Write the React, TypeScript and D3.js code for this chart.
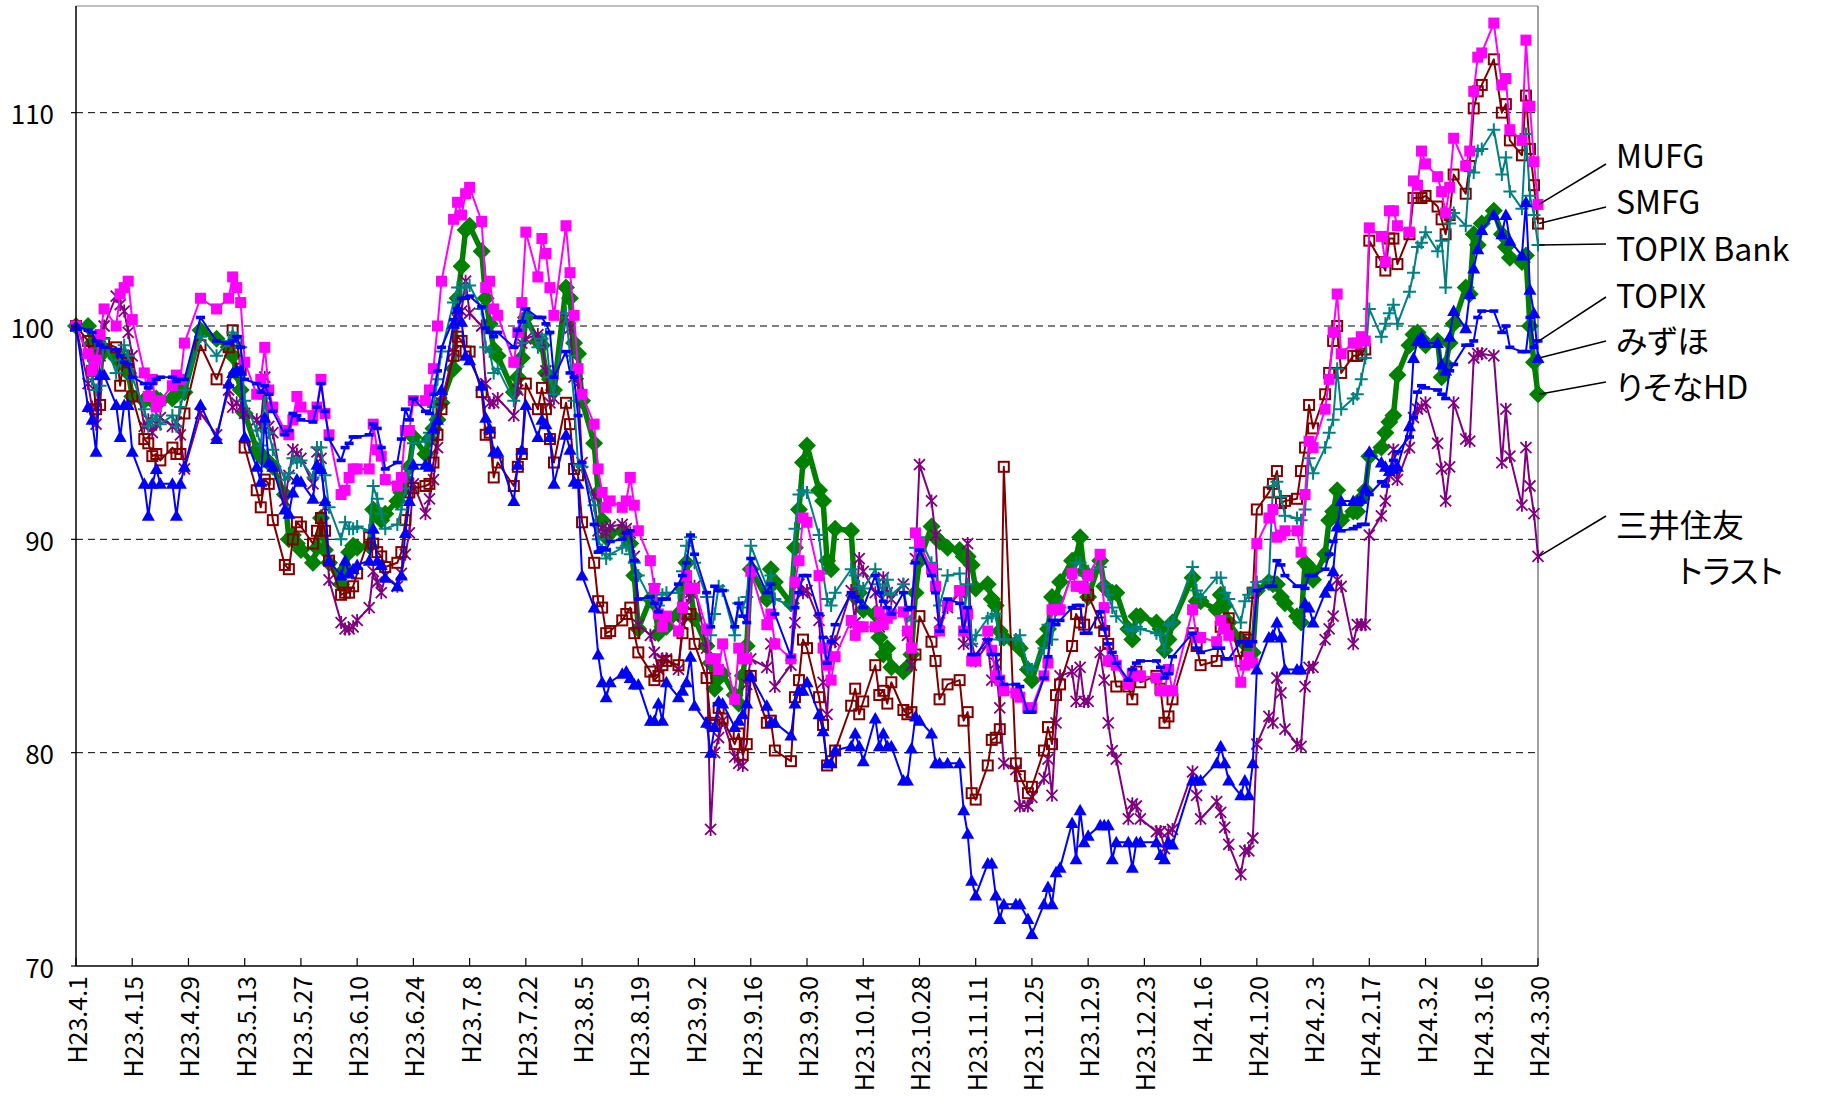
import React from 'react';
import * as d3 from 'd3';

const W = 1827;
const H = 1097;
const PL = 76, PR = 1538, PT = 6, PB = 966;
const FONT = "'Noto Sans CJK JP', 'Noto Sans', sans-serif";

// trading days (categories), per month Apr 2011 .. Mar 2012
const MONTH_STARTS: [number, number][] = [
  [2011, 3], [2011, 4], [2011, 5], [2011, 6], [2011, 7], [2011, 8],
  [2011, 9], [2011, 10], [2011, 11], [2012, 0], [2012, 1], [2012, 2],
];
const TRADING_DAYS: number[][] = [
  [1, 4, 5, 6, 7, 8, 11, 12, 13, 14, 15, 18, 19, 20, 21, 22, 25, 26, 27, 28],
  [2, 6, 9, 10, 11, 12, 13, 16, 17, 18, 19, 20, 23, 24, 25, 26, 27, 30, 31],
  [1, 2, 3, 6, 7, 8, 9, 10, 13, 14, 15, 16, 17, 20, 21, 22, 23, 24, 27, 28, 29, 30],
  [1, 4, 5, 6, 7, 8, 11, 12, 13, 14, 15, 19, 20, 21, 22, 25, 26, 27, 28, 29],
  [1, 2, 3, 4, 5, 8, 9, 10, 11, 12, 15, 16, 17, 18, 19, 22, 23, 24, 25, 26, 29, 30, 31],
  [1, 2, 5, 6, 7, 8, 9, 12, 13, 14, 15, 16, 20, 21, 22, 26, 27, 28, 29, 30],
  [3, 4, 5, 6, 7, 11, 12, 13, 14, 17, 18, 19, 20, 21, 24, 25, 26, 27, 28, 31],
  [1, 2, 4, 7, 8, 9, 10, 11, 14, 15, 16, 17, 18, 21, 22, 24, 25, 28, 29, 30],
  [1, 2, 5, 6, 7, 8, 9, 12, 13, 14, 15, 16, 19, 20, 21, 22, 26, 27, 28, 29, 30],
  [4, 5, 6, 10, 11, 12, 13, 16, 17, 18, 19, 20, 23, 24, 25, 26, 27, 30, 31],
  [1, 2, 3, 6, 7, 8, 9, 10, 13, 14, 15, 16, 17, 20, 21, 22, 23, 24, 27, 28, 29],
  [1, 2, 5, 6, 7, 8, 9, 12, 13, 14, 15, 16, 19, 21, 22, 23, 26, 27, 28, 29, 30],
];

const TICK_LABELS = [
  'H23.4.1', 'H23.4.15', 'H23.4.29', 'H23.5.13', 'H23.5.27', 'H23.6.10', 'H23.6.24',
  'H23.7.8', 'H23.7.22', 'H23.8.5', 'H23.8.19', 'H23.9.2', 'H23.9.16', 'H23.9.30',
  'H23.10.14', 'H23.10.28', 'H23.11.11', 'H23.11.25', 'H23.12.9', 'H23.12.23',
  'H24.1.6', 'H24.1.20', 'H24.2.3', 'H24.2.17', 'H24.3.2', 'H24.3.16', 'H24.3.30',
];
const Y_TICKS = [70, 80, 90, 100, 110];
const GRID_VALUES = [80, 90, 100, 110];

// series values (index, 2011/4/1 = 100)
const MUFG = [
  100, 98.7, 97.9, 98.4, 99.6, 100.8, 100, 101.5, 101.8, 102.1, 100.3, 97.8, 96.7, 97.5, 96.2, 96.5, 97.2, 97.7, 97.5, 99.2,
  101.3, 100.8, 101.3, 102.3, 101.8, 101.1, 98.3, 96.8, 97.5, 99, 97, 96.2, 95.1, 94.9, 95.6, 96.7, 96.2, 95.8, 96.2,
  97.5, 95.9, 94.9, 92.1, 92.3, 92.9, 93.3, 93.3, 93.3, 95.4, 94.2, 93.9, 92.8, 92.5, 92.9, 95.1, 95.1, 96.5, 96.5, 97, 98, 100,
  102.1, 105, 105.8, 105.2, 106.2, 106.5, 104.9, 101.8, 102.1, 100.8, 100.5, 98.3, 99.7, 101.1, 104.4, 102.3, 104.1, 103.4, 101.8, 100.5,
  104.7, 102.5, 100.5, 98, 96.8, 95.4, 93.3, 92.2, 91.5, 91.8, 91.5, 91.8, 92.9, 91.6, 90.4, 89, 87.7, 86.5, 85.9, 86.4, 85.7, 86.8, 88.3,
  87.7, 87.7, 85.8, 84.4, 84.4, 83.9, 85.1, 82.5, 84.9, 84.4, 84.4, 88.5, 86, 86.5, 85.1, 84.4, 88, 89, 91, 90.8,
  88.3, 84.9, 84.1, 83.4, 84.5, 86.2, 85.5, 85.9, 85.9, 85.9, 86.6, 86, 86.3, 86.5, 86.6, 85.7, 84.9, 90.3, 89.8, 88.6,
  87.8, 85.7, 86.9, 87.6, 85.7, 86.5, 84.3, 84.3, 85.7, 84.8, 83.6, 83.4, 82.9, 82.8, 82.6, 82.1, 82.1, 83.6, 84.2, 86.7,
  86.7, 86.7, 88.4, 87.8, 87.8, 87.7, 88.3, 89.3, 86.8, 84.3, 84.3, 84.1, 83.2, 83.7, 83.6, 83.6, 83.5, 82.9, 82.9, 83.9, 82.9,
  86.7, 85.4, 85.4, 85.2, 86.2, 85.8, 85.5, 83.3, 84.1, 84.5, 84.2, 89.8, 91, 91.4, 90.1, 90.2, 90.4, 90.4, 89.4,
  92.1, 94.6, 94.3, 96.1, 97.5, 99.7, 101.5, 98.7, 99.2, 99.2, 99.5, 99.3, 104.6, 104.2, 103, 105.4, 105.4, 104.7, 104.4, 106.8, 106.6,
  108.2, 107.6, 107, 106.3, 105.3, 106.5, 108.8, 107.5, 108.2, 111, 112.6, 112.8, 114.2, 111.3, 111.6, 109.2, 108.7, 113.4, 110.3, 107.7, 105.7,
];
const SMFG = [
  100, 99.3, 97.9, 96.1, 96.3, 99.2, 99, 97.2, 98.6, 98.3, 96.7, 94.7, 94.5, 93.9, 94, 93.7, 94.3, 94, 94, 95.9,
  99.1, 97.5, 99, 99.8, 99.3, 98, 94.3, 92.3, 91.5, 92.8, 92.6, 90.9, 88.8, 88.6, 90, 90.8, 90.6, 89.8, 90.4,
  91, 90.4, 89, 87.4, 87.5, 87.5, 87.8, 88.4, 90.1, 89.8, 89.4, 89.2, 88.7, 88.9, 89.4, 90.9, 92.2, 92.4, 92.5, 92.6, 93.6, 94.9,
  96.1, 98.6, 99.5, 99.3, 98.8, 98.8, 96.9, 94.9, 95, 92.9, 93.6, 92.5, 93.4, 94, 97.3, 96.1, 97.1, 96.1, 94.7, 93.6,
  96.4, 95.4, 93.3, 93, 90.8, 88.9, 87.1, 86.8, 85.6, 85.7, 86.2, 86.5, 86.8, 85.6, 84.7, 83.8, 83.4, 83.6, 84.1, 84.3, 84.1, 85.6, 86.5,
  86.5, 85.1, 83.5, 81.4, 81.3, 82.1, 81.6, 80.4, 80.9, 79.9, 80.4, 83.6, 81.4, 81.5, 80.1, 79.6, 82.6, 83.4, 85.3, 84.9,
  82.6, 81.3, 79.4, 79.6, 80.1, 82.2, 83, 81.8, 82.4, 84.1, 82.7, 82.9, 82.3, 83.3, 82, 81.8, 81.9, 84.6, 86.4, 85.2,
  84.3, 82.5, 83.2, 83.4, 81.5, 81.9, 78.1, 77.8, 79.4, 80.6, 80.7, 81.1, 93.4, 79.5, 78.9, 78.1, 78.4, 80.1, 81.2, 80.4,
  82.7, 83.2, 85, 86.5, 86.1, 86, 87.4, 86.1, 85.7, 85.1, 84.3, 83.1, 83.1, 82.5, 83.8, 83.3, 83.6, 83, 81.4, 81.7, 82.5,
  85.6, 85, 84.1, 84.3, 85.9, 86, 86.3, 84.3, 85.4, 85.3, 87.5, 91.4, 92.2, 92.6, 93.2, 91.7, 91.8, 91.9, 93.2,
  94.3, 96.3, 95.2, 96.8, 97.8, 99.3, 100, 97.8, 98.6, 98.6, 98.7, 98.9, 104, 103, 102.6, 104.1, 104.1, 102.9, 104.3, 106, 106,
  106, 106.1, 105.6, 105, 104.3, 105.2, 107.1, 106.2, 107.5, 110.2, 111, 111.3, 112.5, 110, 110.4, 108.7, 108, 110.8, 108.3, 106.6, 104.8,
];
const TOPIX_BANK = [
  100, 98.6, 97.5, 97, 97.2, 99.4, 97.8, 98.4, 99.1, 98.6, 97.6, 96.1, 95.3, 95.6, 95.8, 95.4, 95.8, 95.3, 96.2, 97,
  99.5, 98.6, 99.3, 99.7, 99.4, 99, 96.5, 95.1, 94.4, 96.6, 95, 94.2, 92.8, 93.1, 93.8, 93.6, 93.7, 92.9, 94.3,
  94.3, 93, 91.5, 90, 90.8, 90.5, 90.5, 90.6, 90.4, 92.5, 91.9, 91.2, 90.5, 90.7, 91.4, 92.4, 93.3, 94.5, 94.6, 95, 96.2, 97.5,
  98.8, 101.1, 101.8, 101.8, 101.8, 101.9, 100.8, 99, 98.8, 97.8, 98, 96.5, 98.1, 99.2, 100.5, 99, 99.4, 99.6, 97.6, 96.8,
  100.6, 98.6, 96.5, 93.5, 93.4, 91.6, 90, 89.5, 89.1, 89.3, 89.6, 89.7, 89.3, 88.9, 88.3, 87.2, 87.9, 86.9, 87.4, 87.5, 87.5, 88.5, 89.7,
  90.1, 88.9, 87.3, 85.5, 86.5, 87.8, 87.6, 85.5, 87, 86.8, 87.3, 89.7, 87.8, 88.3, 87.2, 86.9, 90.5, 92.1, 92.3, 92.2,
  90.2, 88.4, 87.2, 86.9, 87.5, 88.6, 88.3, 87.8, 87.7, 88.6, 87.9, 87.5, 88.1, 87.4, 87.9, 86.4, 86.2, 89.6, 90.1, 88.9,
  88.6, 86.9, 88.3, 88.4, 86.3, 87.9, 85.1, 85.5, 86.3, 86.4, 86.5, 85.3, 85.3, 85.3, 85.5, 84, 83.9, 84.9, 86, 85.3,
  86.7, 86.8, 88.4, 88.9, 88.9, 88.3, 88.5, 88.7, 87.9, 87.4, 86.8, 86.4, 85.8, 85.7, 85.9, 85.8, 85.6, 85.5, 84.8, 86, 86.1,
  88.7, 87.6, 87.3, 88.2, 88.2, 87.5, 87.2, 86.1, 87.1, 87.4, 87.7, 88, 88.1, 92.5, 92.7, 92, 91.1, 91, 90.9,
  91.4, 93.8, 93.1, 94.3, 95, 95.6, 98, 96.1, 96.6, 96.8, 97.5, 98.5, 100.8, 99.5, 100.1, 100.6, 101, 100.1, 101.6, 102.5, 103.7,
  103.9, 104.4, 103.5, 104, 101.8, 104.8, 105.3, 104.7, 107.3, 107.2, 108.2, 108.3, 109.2, 107.1, 107.9, 106.3, 105.5, 109, 106.1, 105.2, 103.8,
];
const TOPIX = [
  100, 99.8, 99.7, 99.3, 99.1, 99, 98.9, 98.6, 98.3, 98.2, 97.6, 97.3, 97.1, 97.3, 97.5, 97.6, 97.6, 97.4, 97.5, 97.5,
  100.4, 99.3, 99.2, 99.3, 99.5, 99, 97.5, 97.3, 96.9, 97.2, 96.8, 96, 94.9, 95.1, 95.9, 95.8, 95.6, 95.5, 96.2,
  97.3, 96, 94.7, 93.7, 94.3, 94.5, 94.8, 94.8, 94.9, 95.4, 95.2, 94.3, 93.3, 93.6, 94.7, 96.1, 95.6, 96.6, 96, 95.9, 96.8, 97.9,
  99, 100.3, 100.8, 101.3, 101.3, 101.4, 100.9, 99.9, 99.7, 99.5, 99.7, 99, 99.8, 100.2, 100.8, 100.4, 100.4, 100.1, 99.7, 97.6,
  98.8, 97.8, 97.6, 95.8, 93.6, 90.7, 89.4, 89.6, 89.5, 89.9, 90, 90.3, 90.4, 89, 87.2, 87.3, 87, 86.6, 87.2, 87.2, 87.9, 88.3, 88.9,
  90.2, 89.3, 87.5, 85.9, 87.8, 87.6, 87.6, 85.9, 87, 86.4, 86.1, 89.1, 87.5, 87.9, 86.5, 84.5, 86.8, 87.5, 88.3, 88.3,
  86.5, 85.4, 84.2, 85.2, 86, 87.5, 87.3, 87.1, 86.8, 88.3, 87.5, 87.1, 86.8, 86.5, 87.5, 86.7, 86.8, 88.9, 89.5, 88.3,
  87.5, 85.7, 87.2, 87, 85.7, 86.8, 84.6, 84.6, 85.3, 84.6, 84.6, 83.5, 83.2, 83.2, 83.1, 81.9, 81.9, 83.5, 84.5, 86.2,
  86, 86.2, 86.8, 86.9, 86.9, 85.6, 85.6, 86.6, 85.8, 85.1, 84.7, 84.2, 83.4, 83.9, 84.2, 84.3, 84.3, 84, 83.5, 83.7, 84.5,
  85.6, 84.9, 84.7, 84.9, 84.9, 84.4, 84.4, 85.2, 85.2, 85, 85.2, 87.6, 87.8, 87.8, 89, 88.8, 88.3, 87.8, 87.8,
  87.7, 88.3, 88.3, 88.6, 89.3, 89.9, 90.5, 90.4, 90.5, 90.6, 90.7, 90.7, 92.1, 92.7, 92.5, 93.3, 93.7, 94.1, 94.8, 95.7, 96.9,
  97.2, 97.1, 97, 96.8, 96.6, 97.9, 98.2, 99.1, 99.1, 99.3, 100.4, 100.7, 100.7, 99.7, 100, 99, 98.8, 98.8, 100.4, 99, 99.3,
];
const MIZUHO = [
  100, 96.2, 95.6, 94.1, 97.7, 97.7, 96.3, 94.8, 96.3, 96.3, 94.1, 92.6, 91.1, 92.6, 93.3, 92.6, 92.6, 91.1, 92.6, 93.4,
  96.3, 94.7, 97.3, 97.8, 97.9, 97.9, 94.8, 93.4, 92.7, 95.7, 93.6, 93.4, 91.4, 91.2, 92.2, 92.8, 92.7, 91.9, 93.5,
  93.3, 91.8, 89, 88.3, 89, 88.4, 88.6, 88.8, 89, 90.5, 89, 88.8, 88.2, 87.8, 88.3, 90.3, 91.8, 93.5, 93.5, 93.4, 95.2, 95.6,
  97, 100.1, 100.8, 100.2, 98.6, 98.4, 97.2, 95.7, 95.2, 94.1, 94.1, 91.8, 93.5, 94.2, 96.3, 94.8, 95.6, 95.4, 94.8, 92.6,
  94.9, 94.2, 92.7, 92.6, 88.3, 86.8, 84.6, 83.3, 82.6, 83.3, 83.7, 83.8, 83.5, 83.2, 83.2, 81.5, 81.5, 82.3, 81.5, 83.3, 82.6, 82.9, 83.3,
  84.5, 82.2, 81.4, 80, 81.2, 82.4, 82.3, 81.2, 81.5, 81.8, 82.3, 83.6, 82.2, 81.4, 81.4, 80.8, 82.3, 82.9, 82.9, 83.3,
  81.8, 81, 79.5, 79.5, 80.1, 80.3, 80.9, 80.3, 79.6, 81.6, 80.3, 80.9, 80.3, 80.3, 78.7, 78.7, 80.2, 81.7, 81.5, 80.9,
  79.5, 79.5, 79.5, 79.5, 77.3, 76.2, 74, 73.3, 74.8, 74.8, 73.3, 72.2, 72.9, 72.9, 72.9, 72.2, 71.5, 72.9, 73.7, 72.9,
  74.4, 74.6, 76.7, 75, 77.3, 75.8, 76.1, 76.6, 76.6, 76.6, 75, 75.8, 75.8, 74.6, 75.8, 75.8, 75.8, 75.2, 75, 75.8, 75.7,
  78.7, 78.7, 78.7, 79.5, 80.3, 79.5, 78.7, 78, 78.7, 78, 79.5, 83.9, 85.4, 85.5, 86.1, 85.4, 83.9, 83.9, 83.9,
  87, 86.8, 86.1, 87.5, 87.8, 88.5, 90.6, 91.8, 91.8, 91.8, 91.9, 92.4, 94.1, 93.6, 93.4, 93.2, 93.3, 93.4, 95.3, 98.5, 99.3,
  99.5, 99.2, 99.2, 98.2, 97.9, 99.5, 100.7, 99.9, 101.5, 102.7, 103.6, 104.5, 105.2, 104.3, 105.2, 104, 103.3, 105.8, 101.7, 100.6, 98.5,
];
const RESONA = [
  100, 100, 99.2, 98.8, 99, 98.8, 98.5, 98.3, 98.4, 97.8, 96.7, 96.5, 96.7, 96.5, 96.6, 96.5, 96.6, 96.8, 97, 96.9,
  99.8, 99.4, 99, 98.6, 97.8, 97, 95.9, 94.2, 93.9, 93.8, 93.6, 93.4, 92.1, 90, 90.2, 89.8, 89.5, 88.9, 89.6,
  91, 89.5, 88.9, 87.9, 88.6, 89.4, 89.7, 89.6, 89.7, 91.4, 91.2, 90.9, 91.2, 91.8, 92.2, 92.8, 93.4, 94.8, 94, 94.7, 95.2, 95.6,
  96.4, 98, 101.3, 102.8, 104.5, 104.7, 103.5, 101.3, 100.1, 98.9, 98.6, 96.9, 97.6, 98.5, 100.4, 99.3, 99.1, 97.8, 97.5, 97,
  101.8, 101.3, 99.2, 98.7, 96.5, 94.5, 92.2, 90.9, 90.1, 90.3, 90.4, 90.2, 89.8, 88.3, 85.8, 87.2, 87, 85.6, 85.9, 85.9, 86.5, 87.7, 88.9,
  87.6, 86.3, 85, 84.2, 83, 83.5, 83.7, 82.7, 82.3, 83.6, 85, 88.6, 87.2, 88.6, 88, 87, 89.6, 91.4, 93.6, 94.4,
  92.3, 91.8, 89, 88.6, 90.5, 90.4, 87.3, 87.5, 86.7, 86.5, 85.4, 84.6, 84.9, 84, 83.8, 84, 84.6, 87.5, 89, 90.6,
  90.1, 89.9, 89.6, 89.5, 89.2, 89.2, 88.8, 87.7, 87.9, 87.2, 86.9, 85.7, 85.4, 85.1, 84.9, 83.9, 83.4, 85.2, 85.8, 87.3,
  87.2, 88, 89, 89.1, 90.1, 88.5, 87.3, 89, 87.8, 87.6, 87.5, 87.5, 85.8, 85.3, 86.4, 86.4, 86.1, 85.8, 84.8, 85.3, 86.1,
  88.2, 87.1, 87.1, 86.7, 87.4, 86.9, 86.1, 85.3, 85.1, 84.7, 84.7, 87.6, 88, 87.9, 87.9, 87.3, 87, 86.4, 86.1,
  88.9, 88.7, 88.1, 89.3, 90.9, 91.3, 92.3, 90.9, 91.3, 91.3, 91.9, 92.3, 93.9, 94.3, 95, 95.5, 95.8, 97.7, 99.1, 99.6, 99.7,
  99.4, 99.1, 99.3, 97.6, 98.2, 99.2, 100.1, 101.8, 101.5, 104.3, 103.8, 104.8, 105.4, 104.3, 103.7, 103.2, 103, 103.3, 100, 98.3, 96.8,
];
const SUMITOMO_TRUST = [
  100, 97.3, 96.2, 95.4, 98.6, 100, 101.4, 101, 100.7, 99.7, 98.6, 95.3, 95.6, 95, 95.4, 95.7, 95.3, 95.5, 94.9, 93.3,
  95.9, 94.9, 97, 96.2, 96.4, 96.2, 95.9, 95.6, 95.3, 97.6, 95.3, 95, 91.8, 93, 94.2, 94, 93.8, 92.6, 94.1,
  93.8, 91.5, 88.1, 86.1, 85.8, 85.8, 85.9, 86.2, 86.8, 88.5, 88, 87.5, 88.3, 87.8, 88.4, 89.3, 90.3, 92.6, 91.2, 91.9, 92.8, 94.3,
  96.4, 98.8, 100.3, 100.7, 102.1, 100.6, 100, 97.3, 96.4, 96.4, 96.6, 95.8, 97, 99.2, 99.4, 99.6, 99.2, 97.9, 96.4, 96.6,
  100.4, 99.9, 97.6, 97.3, 93.6, 92, 90.4, 90.5, 90.3, 90.6, 90.7, 90.5, 90.3, 89.2, 86, 85.5, 84.7, 83.9, 84.4, 84.4, 83.9, 86, 86.9,
  87.5, 87.8, 84.9, 76.4, 80, 80.7, 81.5, 79.8, 79.5, 79.4, 83.2, 84.4, 84, 85.1, 83.1, 84.1, 86.1, 87.9, 87.5, 87.6,
  86.2, 83.3, 81.8, 85.2, 85.2, 87.6, 86.1, 89.1, 88.5, 87.5, 85.9, 88.2, 87.5, 87.2, 87.9, 85.5, 84.1, 89.1, 93.5, 91.8,
  90.2, 86.1, 86.8, 87.5, 85.1, 89.8, 85.2, 84.3, 85.1, 83.4, 84.2, 82.1, 79.5, 79.2, 77.5, 77.5, 77.9, 78.8, 79.7, 78,
  81.4, 83.6, 83.8, 82.4, 84, 82.4, 82.4, 84.7, 83.4, 81.4, 80.1, 79.7, 76.9, 77.6, 77.5, 76.9, 76.3, 76.3, 75.5, 76.3, 76.4,
  79.1, 78, 76.9, 77.7, 77.2, 76.5, 75.7, 74.3, 75.4, 75.4, 76, 80.4, 81.7, 81.4, 83.5, 82.8, 81.1, 80.4, 80.3,
  83.1, 84, 84, 85.3, 85.8, 86.4, 88.1, 87.8, 85.1, 86, 86, 86, 90.2, 91.1, 91.8, 93, 94.2, 92.8, 94.3, 95.7, 96.1,
  96.2, 96.4, 94.5, 93.3, 91.8, 93.4, 96.4, 94.7, 94.6, 98.5, 98.7, 98.7, 98.6, 93.6, 96.1, 93.9, 91.6, 94.3, 92.5, 91.2, 89.2,
];

// end labels
const LABEL_TEXTS = ['MUFG', 'SMFG', 'TOPIX Bank', 'TOPIX', 'みずほ', 'りそなHD', '三井住友', 'トラスト'];

type MarkerKind = 'square' | 'openSquare' | 'plus' | 'dash' | 'triangle' | 'diamond' | 'asterisk';

const DATES: Date[] = TRADING_DAYS.flatMap((days, i) =>
  days.map((d) => new Date(MONTH_STARTS[i][0], MONTH_STARTS[i][1], d))
);

function parseLabel(s: string): Date {
  const [era, m, d] = s.split('.');
  const yr = 1988 + parseInt(era.slice(1), 10);
  return new Date(yr, parseInt(m, 10) - 1, parseInt(d, 10));
}

const x = d3.scaleTime().domain([new Date(2011, 3, 1), new Date(2012, 2, 30)]).range([PL, PR]);
const y = d3.scaleLinear().domain([70, 115]).range([PB, PT]);

function Marker({ kind, cx, cy, color }: { kind: MarkerKind; cx: number; cy: number; color: string }) {
  switch (kind) {
    case 'square':
      return <rect x={cx - 5.5} y={cy - 5.5} width={11} height={11} fill={color} />;
    case 'openSquare':
      return <rect x={cx - 5} y={cy - 5} width={10} height={10} fill="none" stroke={color} strokeWidth={2} />;
    case 'plus':
      return <path d={`M${cx - 6.5},${cy}H${cx + 6.5}M${cx},${cy - 6.5}V${cy + 6.5}`} stroke={color} strokeWidth={2} />;
    case 'dash':
      return <rect x={cx - 4.5} y={cy - 1.8} width={9} height={3.6} fill={color} />;
    case 'triangle':
      return <path d={`M${cx},${cy - 6.5}L${cx + 6.5},${cy + 5}L${cx - 6.5},${cy + 5}Z`} fill={color} />;
    case 'diamond':
      return <path d={`M${cx},${cy - 9}L${cx + 9},${cy}L${cx},${cy + 9}L${cx - 9},${cy}Z`} fill={color} />;
    case 'asterisk':
      return (
        <path
          d={`M${cx - 5.5},${cy - 5.5}L${cx + 5.5},${cy + 5.5}M${cx - 5.5},${cy + 5.5}L${cx + 5.5},${cy - 5.5}M${cx},${cy - 6.5}V${cy + 6.5}`}
          stroke={color}
          strokeWidth={1.8}
        />
      );
  }
  return null;
}

const SERIES = [
  { key: 'resona', values: RESONA, color: '#008000', width: 5.5, marker: 'diamond' as MarkerKind },
  { key: 'trust', values: SUMITOMO_TRUST, color: '#800080', width: 2, marker: 'asterisk' as MarkerKind },
  { key: 'smfg', values: SMFG, color: '#800000', width: 2, marker: 'openSquare' as MarkerKind },
  { key: 'bank', values: TOPIX_BANK, color: '#008080', width: 2, marker: 'plus' as MarkerKind },
  { key: 'mufg', values: MUFG, color: '#FF00FF', width: 2, marker: 'square' as MarkerKind },
  { key: 'mizuho', values: MIZUHO, color: '#0000FF', width: 2, marker: 'triangle' as MarkerKind },
  { key: 'topix', values: TOPIX, color: '#0000FF', width: 2, marker: 'dash' as MarkerKind },
];

const LABELS = [
  { text: LABEL_TEXTS[0], values: MUFG, cy: 154, ly: 164 },
  { text: LABEL_TEXTS[1], values: SMFG, cy: 200, ly: 207 },
  { text: LABEL_TEXTS[2], values: TOPIX_BANK, cy: 247, ly: 244 },
  { text: LABEL_TEXTS[3], values: TOPIX, cy: 294, ly: 297 },
  { text: LABEL_TEXTS[4], values: MIZUHO, cy: 339, ly: 341 },
  { text: LABEL_TEXTS[5], values: RESONA, cy: 385, ly: 382 },
  { text: LABEL_TEXTS[6], values: SUMITOMO_TRUST, cy: 523, ly: 516 },
];

export default function App() {
  const line = d3
    .line<number>()
    .x((_, i) => x(DATES[i]))
    .y((v) => y(v));
  const lastX = x(DATES[DATES.length - 1]);
  const labelStyle = { fontFeatureSettings: '"palt"' };

  return (
    <svg
      width={W}
      height={H}
      viewBox={`0 0 ${W} ${H}`}
      style={{ position: 'absolute', left: 0, top: 0, background: '#fff' }}
      fontFamily={FONT}
    >
      <rect x={0} y={0} width={W} height={H} fill="#fff" />
      {/* grid */}
      {GRID_VALUES.map((v) => (
        <line key={v} x1={PL} x2={PR} y1={y(v)} y2={y(v)} stroke="#000" strokeWidth={1} strokeDasharray="7,5" />
      ))}
      {/* plot border */}
      <line x1={PL} x2={PR} y1={PT} y2={PT} stroke="#808080" strokeWidth={1.2} />
      <line x1={PR} x2={PR} y1={PT} y2={PB} stroke="#808080" strokeWidth={1.5} />

      {/* series */}
      {SERIES.map((s) => (
        <g key={s.key}>
          <path d={line(s.values) || ''} fill="none" stroke={s.color} strokeWidth={s.width} strokeLinejoin="round" />
          {s.values.map((v, i) => (
            <Marker key={i} kind={s.marker} cx={x(DATES[i])} cy={y(v)} color={s.color} />
          ))}
        </g>
      ))}

      {/* axes */}
      <line x1={PL} x2={PL} y1={PT} y2={PB} stroke="#000" strokeWidth={1.5} />
      <line x1={PL} x2={PR} y1={PB} y2={PB} stroke="#000" strokeWidth={1.5} />
      {Y_TICKS.map((v) => (
        <g key={v}>
          <line x1={PL - 5} x2={PL} y1={y(v)} y2={y(v)} stroke="#000" strokeWidth={1.2} />
          <text x={54} y={y(v)} textAnchor="end" dominantBaseline="central" fontSize={26} fill="#000">
            {v}
          </text>
        </g>
      ))}
      {TICK_LABELS.map((t) => {
        const tx = x(parseLabel(t));
        return (
          <g key={t}>
            <line x1={tx} x2={tx} y1={PB - 8} y2={PB} stroke="#000" strokeWidth={1.2} />
            <text
              transform={`translate(${tx},${PB + 10}) rotate(-90)`}
              textAnchor="end"
              dominantBaseline="central"
              fontSize={25}
              fill="#000"
            >
              {t}
            </text>
          </g>
        );
      })}

      {/* end labels with leader lines */}
      {LABELS.map((l) => (
        <g key={l.text}>
          <line
            x1={lastX + 1}
            y1={y(l.values[l.values.length - 1])}
            x2={1606}
            y2={l.ly}
            stroke="#000"
            strokeWidth={1.5}
          />
          <text x={1616} y={l.cy} dominantBaseline="central" fontSize={32} fill="#000" style={labelStyle}>
            {l.text}
          </text>
        </g>
      ))}
      <text x={1678} y={569} dominantBaseline="central" fontSize={32} fill="#000" style={labelStyle}>
        {LABEL_TEXTS[7]}
      </text>
    </svg>
  );
}
